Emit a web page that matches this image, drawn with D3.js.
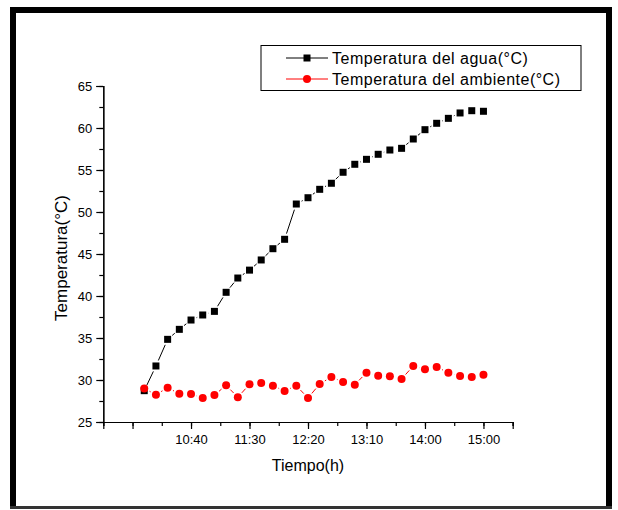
<!DOCTYPE html>
<html><head><meta charset="utf-8">
<script src="https://cdn.jsdelivr.net/npm/d3@7"></script>
<style>body{margin:0;background:#fff}svg{display:block}text{font-family:"Liberation Sans",Arial,sans-serif}</style>
</head><body><svg id="c" width="618" height="510"></svg>
<script>
const pointIndex = d3.range(1, 31);
const aguaValues = [28.73,31.67,34.84,36.03,37.14,37.74,38.17,40.44,42.14,43.08,44.29,45.63,46.75,50.95,51.7,52.7,53.42,54.73,55.68,56.27,56.87,57.38,57.58,58.69,59.8,60.56,61.15,61.79,62.06,61.99];
const ambienteValues = [29.0,28.25,29.08,28.37,28.33,27.86,28.2,29.37,27.94,29.49,29.64,29.32,28.69,29.32,27.86,29.52,30.36,29.76,29.44,30.87,30.51,30.44,30.12,31.67,31.27,31.55,30.87,30.48,30.36,30.63];
const xTickValues = [0,5,10,15,20,25,30];
const xTickLabels = ["","10:40","11:30","12:20","13:10","14:00","15:00"];
const yTicks = [25,30,35,40,45,50,55,60,65];
const seriesNames = ["Temperatura del agua(°C)","Temperatura del ambiente(°C)"];

const svg = d3.select("#c");
// frame
const fr = svg.append("g").attr("stroke","#000");
fr.append("line").attr("x1",10).attr("x2",612).attr("y1",10).attr("y2",10).attr("stroke-width",6);
fr.append("line").attr("x1",13).attr("x2",13).attr("y1",7).attr("y2",509).attr("stroke-width",6);
fr.append("line").attr("x1",609).attr("x2",609).attr("y1",7).attr("y2",509).attr("stroke-width",6);
fr.append("line").attr("x1",10).attr("x2",612).attr("y1",507.5).attr("y2",507.5).attr("stroke","#333").attr("stroke-width",3);

const x = d3.scaleLinear().domain([-2.5,32.5]).range([103.3,512.7]);
const y = d3.scaleLinear().domain([25,65]).range([422,86]);

// axes
const xMinor = d3.range(-2.5,32.6,2.5);
const yMinor = d3.range(25,65.1,2.5);
const gx = svg.append("g").attr("transform","translate(0,422)");
gx.call(d3.axisBottom(x).tickValues(xMinor).tickSize(4).tickFormat(""));
const gx2 = svg.append("g").attr("transform","translate(0,422)");
gx2.call(d3.axisBottom(x).tickValues(xTickValues).tickSize(7).tickPadding(6)
  .tickFormat((d,i)=>xTickLabels[i]));
const gy = svg.append("g").attr("transform","translate(103.3,0)");
gy.call(d3.axisLeft(y).tickValues(yMinor).tickSize(4).tickFormat(""));
const gy2 = svg.append("g").attr("transform","translate(103.3,0)");
gy2.call(d3.axisLeft(y).tickValues(yTicks).tickSize(7).tickPadding(4));
svg.selectAll(".domain").attr("stroke","#000").attr("stroke-width",1.2);
svg.selectAll(".tick line").attr("stroke","#000").attr("stroke-width",1.2);
gx2.selectAll("text").attr("font-size",13).attr("fill","#000").attr("font-family","Liberation Sans, Arial");
gy2.selectAll("text").attr("font-size",13).attr("fill","#000").attr("font-family","Liberation Sans, Arial");

svg.append("text").attr("x",308).attr("y",471).attr("text-anchor","middle").attr("font-size",16).text("Tiempo(h)");
svg.append("text").attr("transform","translate(67,258) rotate(-90)").attr("text-anchor","middle").attr("font-size",17).text("Temperatura(°C)");

function gapLine(g, vals, color, gap){
  for(let i=0;i<vals.length-1;i++){
    const x1=x(pointIndex[i]), y1=y(vals[i]), x2=x(pointIndex[i+1]), y2=y(vals[i+1]);
    const dx=x2-x1, dy=y2-y1, L=Math.hypot(dx,dy);
    if(L<=2*gap) continue;
    const ux=dx/L, uy=dy/L;
    g.append("line").attr("x1",x1+ux*gap).attr("y1",y1+uy*gap).attr("x2",x2-ux*gap).attr("y2",y2-uy*gap)
      .attr("stroke",color).attr("stroke-width",1);
  }
}
const gA = svg.append("g");
gapLine(gA, aguaValues, "#000", 6);
gA.selectAll("rect").data(aguaValues).join("rect")
  .attr("x",(d,i)=>x(pointIndex[i])-3.5).attr("y",d=>y(d)-3.5).attr("width",7).attr("height",7).attr("fill","#000");
const gB = svg.append("g");
gapLine(gB, ambienteValues, "#f00", 6);
gB.selectAll("circle").data(ambienteValues).join("circle")
  .attr("cx",(d,i)=>x(pointIndex[i])).attr("cy",d=>y(d)).attr("r",4).attr("fill","#f00");

// legend
const lg = svg.append("g");
lg.append("rect").attr("x",261).attr("y",45.5).attr("width",320).attr("height",45).attr("fill","#fff").attr("stroke","#000").attr("stroke-width",1);
[["#000","sq"],["#f00","ci"]].forEach((s,i)=>{
  const yy = 58 + i*21;
  lg.append("line").attr("x1",286).attr("x2",328).attr("y1",yy).attr("y2",yy).attr("stroke",s[0]).attr("stroke-width",1);
  if(s[1]==="sq") lg.append("rect").attr("x",303.5).attr("y",yy-3.5).attr("width",7).attr("height",7).attr("fill","#000");
  else lg.append("circle").attr("cx",307).attr("cy",yy).attr("r",4).attr("fill","#f00");
  lg.append("text").attr("x",332).attr("y",yy+5.5).attr("font-size",16).attr("letter-spacing",0.5).text(seriesNames[i]);
});
</script></body></html>
